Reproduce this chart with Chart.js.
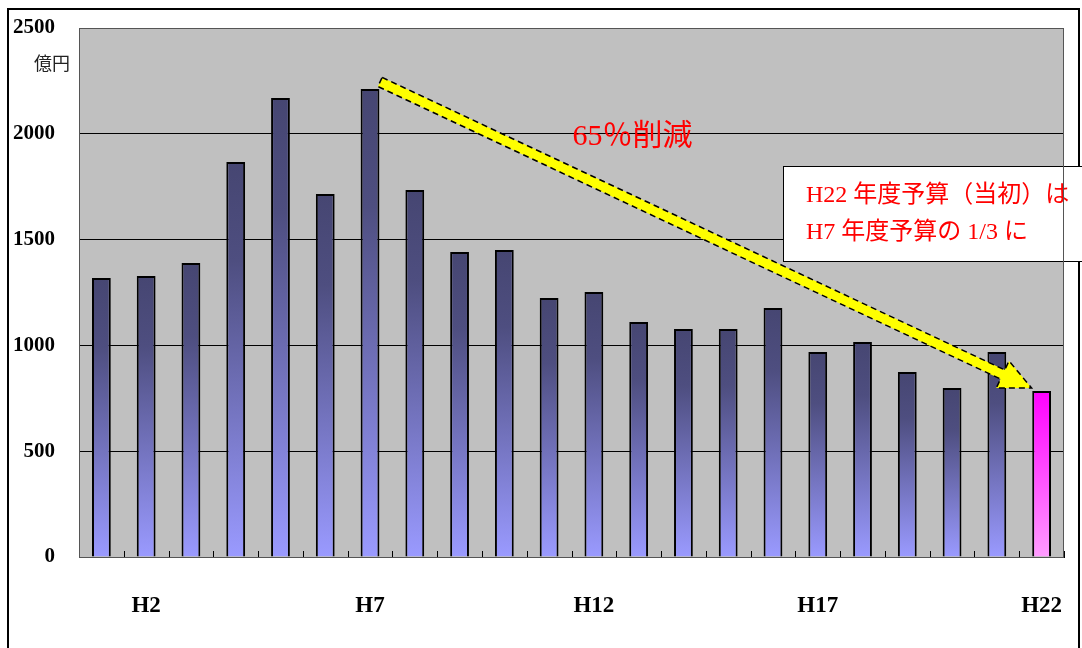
<!DOCTYPE html>
<html>
<head>
<meta charset="utf-8">
<script src="https://cdn.jsdelivr.net/npm/chart.js@4.4.1/dist/chart.umd.min.js"></script>
<style>
  html, body { margin: 0; padding: 0; background: #fff; }
  #wrap { width: 1082px; height: 648px; }
</style>
</head>
<body>
<div id="wrap"><canvas id="budgetChart" width="1082" height="648"></canvas></div>
<script>
// fiscal years H1 .. H22 (億円)
var years = ['H1', 'H2', 'H3', 'H4', 'H5', 'H6', 'H7', 'H8', 'H9', 'H10', 'H11',
  'H12', 'H13', 'H14', 'H15', 'H16', 'H17', 'H18', 'H19', 'H20', 'H21', 'H22'];
var budget = [1318, 1328, 1389, 1867, 2169, 1715, 2212, 1734, 1441, 1451, 1224,
  1252, 1111, 1077, 1077, 1177, 969, 1016, 874, 799, 969, 784];
var shownLabels = ['H2', 'H7', 'H12', 'H17', 'H22'];
var yTicks = [0, 500, 1000, 1500, 2000, 2500];

var serif = '"Liberation Serif", "Times New Roman", "Noto Sans CJK JP", serif';

function barFill(c) {
  var chart = c.chart;
  var y = chart.scales && chart.scales.y;
  var last = c.dataIndex === budget.length - 1;
  if (!y || c.type !== 'data' || !isFinite(y.getPixelForValue(0))) {
    return last ? '#ff44ff' : '#6666aa';
  }
  var top = y.getPixelForValue(c.raw);
  var bottom = y.getPixelForValue(0);
  var g = chart.ctx.createLinearGradient(0, top, 0, bottom);
  if (last) {
    g.addColorStop(0, '#ff00ff');
    g.addColorStop(1, '#ff9cff');
  } else {
    g.addColorStop(0, '#464672');
    g.addColorStop(0.25, '#4e4e80');
    g.addColorStop(1, '#9a9aff');
  }
  return g;
}

// gray plot area, outer frame
var backdrop = {
  id: 'backdrop',
  beforeDraw: function(chart) {
    var ctx = chart.ctx, a = chart.chartArea;
    ctx.save();
    ctx.fillStyle = '#fff';
    ctx.fillRect(0, 0, chart.width, chart.height);
    ctx.fillStyle = '#c0c0c0';
    ctx.fillRect(a.left, a.top, a.right - a.left, a.bottom - a.top);
    ctx.strokeStyle = '#000';
    ctx.lineWidth = 2;
    ctx.strokeRect(8, 9, chart.width - 11, chart.height + 10);
    ctx.restore();
  },
  afterDraw: function(chart) {
    var ctx = chart.ctx, a = chart.chartArea;
    var x = chart.scales.x;
    ctx.save();
    // plot border
    ctx.strokeStyle = '#555';
    ctx.lineWidth = 1;
    ctx.strokeRect(a.left + 0.5, a.top + 0.5, a.right - a.left - 1, a.bottom - a.top);
    // small inward ticks between categories
    ctx.strokeStyle = '#000';
    var step = x.getPixelForValue(1) - x.getPixelForValue(0);
    for (var i = 0; i < years.length; i++) {
      var px = Math.round(x.getPixelForValue(i) + step / 2) + 0.5;
      ctx.beginPath();
      ctx.moveTo(px, a.bottom);
      ctx.lineTo(px, a.bottom - 6);
      ctx.stroke();
    }
    // unit
    ctx.fillStyle = '#222';
    ctx.font = '18px "Noto Sans CJK JP", sans-serif';
    ctx.textAlign = 'center';
    ctx.textBaseline = 'middle';
    ctx.fillText('億円', 52, 63);
    ctx.restore();
  }
};

// arrow from H7 down to H22, with notes
var notes = {
  id: 'notes',
  afterDatasetsDraw: function(chart) {
    var ctx = chart.ctx, a = chart.chartArea;
    var x = chart.scales.x, y = chart.scales.y;
    var i7 = years.indexOf('H7'), i22 = years.indexOf('H22');
    var x0 = x.getPixelForValue(i7) + 10, y0 = y.getPixelForValue(budget[i7]) - 7;
    var x1 = x.getPixelForValue(i22) - 10, y1 = y.getPixelForValue(budget[i22]) - 3;
    var ang = Math.atan2(y1 - y0, x1 - x0);
    var len = Math.hypot(x1 - x0, y1 - y0);
    var shaft = 5, head = 15, headLen = 32;

    ctx.save();
    ctx.translate(x0, y0);
    ctx.rotate(ang);
    ctx.beginPath();
    ctx.moveTo(0, -shaft);
    ctx.lineTo(len - headLen, -shaft);
    ctx.lineTo(len - headLen, -head);
    ctx.lineTo(len, 0);
    ctx.lineTo(len - headLen, head);
    ctx.lineTo(len - headLen, shaft);
    ctx.lineTo(0, shaft);
    ctx.closePath();
    ctx.fillStyle = '#ffff00';
    ctx.fill();
    ctx.setLineDash([6, 4]);
    ctx.strokeStyle = '#000';
    ctx.lineWidth = 1.5;
    ctx.stroke();
    ctx.restore();

    ctx.save();
    ctx.fillStyle = '#ff0000';
    ctx.textAlign = 'center';
    ctx.textBaseline = 'middle';
    ctx.font = '30px ' + serif;
    ctx.fillText('65％削減', a.left + (a.right - a.left) * 0.562, 137);

    // note box
    ctx.fillStyle = '#fff';
    ctx.fillRect(783, 166, 300, 95);
    ctx.strokeStyle = '#000';
    ctx.lineWidth = 1;
    ctx.strokeRect(783.5, 166.5, 300, 95);
    ctx.fillStyle = '#ff0000';
    ctx.textAlign = 'left';
    ctx.font = '24px ' + serif;
    ctx.fillText('H22 年度予算（当初）は', 806, 196);
    ctx.fillText('H7 年度予算の 1/3 に', 806, 233);
    ctx.restore();
  }
};

var ctx = document.getElementById('budgetChart').getContext('2d');
var chart = new Chart(ctx, {
  type: 'bar',
  data: {
    labels: years,
    datasets: [
      {
        label: '予算',
        data: budget,
        backgroundColor: barFill,
        borderColor: '#000',
        borderWidth: 2,
        borderSkipped: 'bottom',
        categoryPercentage: 1,
        barPercentage: 0.42
      }
    ]
  },
  options: {
    responsive: false,
    animation: false,
    layout: { padding: { top: 28, right: 18, left: 0, bottom: 0 } },
    plugins: {
      legend: { display: false },
      tooltip: { enabled: false }
    },
    scales: {
      x: {
        grid: { display: false },
        border: { display: true, color: '#000', width: 1 },
        ticks: {
          autoSkip: false,
          maxRotation: 0,
          padding: 27,
          color: '#000',
          font: { family: serif, size: 23, weight: 'bold' },
          callback: function(v, i) {
            var lab = years[i];
            return shownLabels.indexOf(lab) >= 0 ? lab : '';
          }
        },
        afterFit: function(s) {
          s.height = 91;
          s.paddingLeft = 0;
          s.paddingRight = 0;
        }
      },
      y: {
        min: 0,
        max: 2500,
        afterBuildTicks: function(s) {
          s.ticks = yTicks.map(function(v) { return { value: v }; });
        },
        grid: { color: '#000', lineWidth: 1, drawTicks: false },
        border: { display: true, color: '#555', width: 1 },
        ticks: {
          padding: 24,
          color: '#000',
          font: { family: serif, size: 21, weight: 'bold' },
          callback: function(v) { return String(v); }
        },
        afterFit: function(s) {
          s.width = 79;
          s.paddingTop = 0;
          s.paddingBottom = 0;
        }
      }
    }
  },
  plugins: [backdrop, notes]
});
</script>
</body>
</html>
